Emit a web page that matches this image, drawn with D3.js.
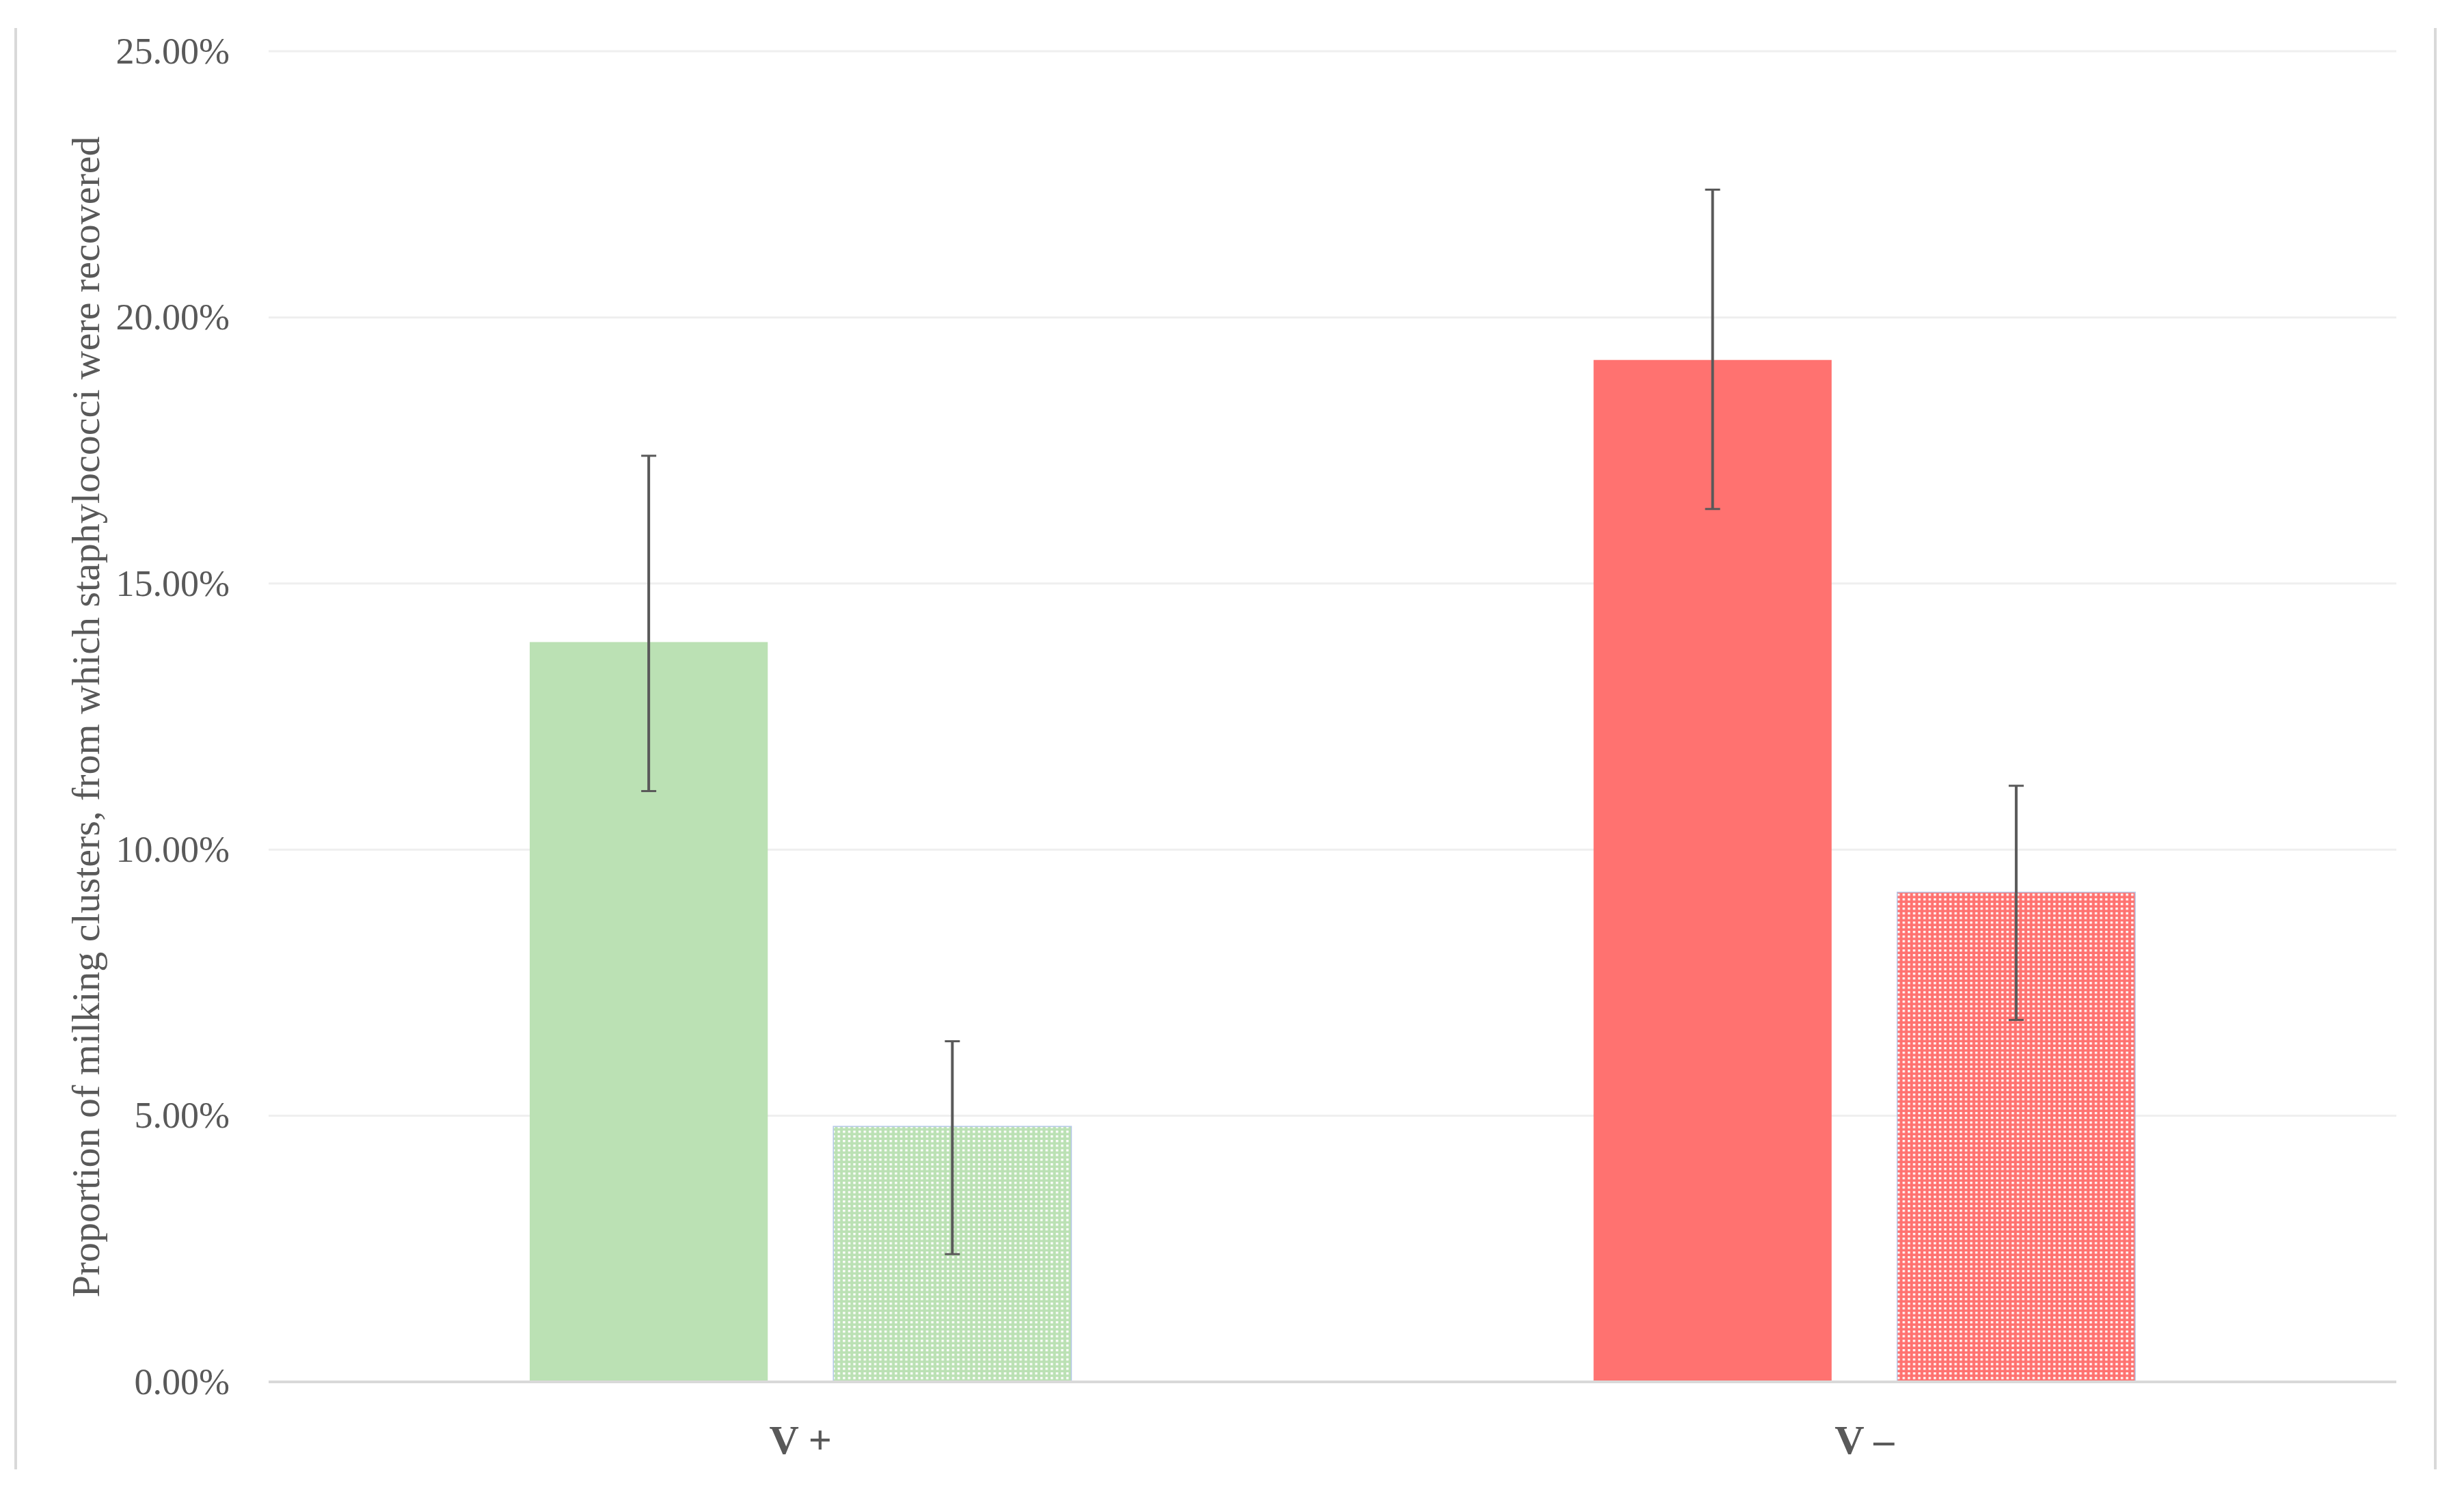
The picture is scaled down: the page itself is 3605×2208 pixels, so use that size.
<!DOCTYPE html>
<html>
<head>
<meta charset="utf-8">
<script src="https://cdn.jsdelivr.net/npm/d3@7"></script>
<style>
  html, body { margin: 0; padding: 0; background: #ffffff; }
  svg { display: block; }
</style>
</head>
<body>
<script>
// ---- data ----
const categories = ["V +", "V \u2013"];
const seriesNames = ["solid", "dotted"];
const valuesSolid = [0.139, 0.192];
const valuesDotted = [0.048, 0.092];
const errHighSolid = [0.174, 0.224];
const errLowSolid = [0.111, 0.164];
const errHighDotted = [0.064, 0.112];
const errLowDotted = [0.024, 0.068];
const yTicks = [0, 0.05, 0.10, 0.15, 0.20, 0.25];
const yLabel = "Proportion of milking clusters, from which staphylococci were recovered";

const colorGreen = "#bbe1b4";
const colorRed = "#ff7270";

const W = 3605, H = 2208;
const plot = { left: 393, right: 3506, top: 75, bottom: 2022 };

const svg = d3.select("body").append("svg").attr("width", W).attr("height", H);
const defs = svg.append("defs");

function makePattern(id, bg) {
  const p = defs.append("pattern").attr("id", id)
    .attr("patternUnits", "userSpaceOnUse")
    .attr("width", 7.6).attr("height", 6.8);
  p.append("rect").attr("width", 7.6).attr("height", 6.8).attr("fill", bg);
  p.append("rect").attr("x", 2).attr("y", 2).attr("width", 3.4).attr("height", 3.2).attr("fill", "#ffffff");
}
makePattern("patGreen", colorGreen);
makePattern("patRed", colorRed);

// outer frame lines (left and right)
svg.append("line").attr("x1", 23).attr("x2", 23).attr("y1", 41).attr("y2", 2150)
  .attr("stroke", "#d9d9d9").attr("stroke-width", 4);
svg.append("line").attr("x1", 3563).attr("x2", 3563).attr("y1", 41).attr("y2", 2150)
  .attr("stroke", "#d9d9d9").attr("stroke-width", 4);

const y = d3.scaleLinear().domain([0, 0.25]).range([plot.bottom, plot.top]);
const x0 = d3.scaleBand().domain(categories).range([plot.left, plot.right]).padding(0);
const x1 = d3.scaleBand().domain(seriesNames).range([0, x0.bandwidth()])
  .paddingInner(0.216).paddingOuter(0.86);

// gridlines
svg.append("g").selectAll("line").data(yTicks.filter(d => d > 0)).join("line")
  .attr("x1", plot.left).attr("x2", plot.right)
  .attr("y1", d => y(d)).attr("y2", d => y(d))
  .attr("stroke", "#efefef").attr("stroke-width", 3);

// y axis labels
const yAxis = d3.axisLeft(y).tickValues(yTicks).tickFormat(d3.format(".2%")).tickSize(0).tickPadding(57);
const gy = svg.append("g").attr("transform", `translate(${plot.left},0)`).call(yAxis);
gy.select(".domain").remove();
gy.selectAll("text").attr("font-family", "'Liberation Serif', 'Times New Roman', serif")
  .attr("font-size", 54).attr("fill", "#595959").attr("dy", "0.32em");

// bars
const rows = categories.map((c, i) => ({
  cat: c, i,
  bars: [
    { s: "solid", v: valuesSolid[i], hi: errHighSolid[i], lo: errLowSolid[i] },
    { s: "dotted", v: valuesDotted[i], hi: errHighDotted[i], lo: errLowDotted[i] }
  ]
}));

const gBars = svg.append("g");
rows.forEach(r => {
  const fillSolid = r.i === 0 ? colorGreen : colorRed;
  const fillDotted = r.i === 0 ? "url(#patGreen)" : "url(#patRed)";
  r.bars.forEach(b => {
    const bx = x0(r.cat) + x1(b.s);
    gBars.append("rect")
      .attr("x", bx).attr("y", y(b.v))
      .attr("width", x1.bandwidth()).attr("height", y(0) - y(b.v))
      .attr("fill", b.s === "solid" ? fillSolid : fillDotted)
      .attr("stroke", b.s === "solid" ? "none" : "#b4c7e7")
      .attr("stroke-width", b.s === "solid" ? 0 : 1.5);
  });
});

// x axis line
svg.append("line").attr("x1", plot.left).attr("x2", plot.right)
  .attr("y1", y(0)).attr("y2", y(0)).attr("stroke", "#d9d9d9").attr("stroke-width", 4);

// error bars
const gErr = svg.append("g").attr("stroke", "#595959");
rows.forEach(r => {
  r.bars.forEach(b => {
    const cx = x0(r.cat) + x1(b.s) + x1.bandwidth() / 2;
    gErr.append("line").attr("x1", cx).attr("x2", cx).attr("y1", y(b.hi)).attr("y2", y(b.lo)).attr("stroke-width", 4);
    [b.hi, b.lo].forEach(e => {
      gErr.append("line").attr("x1", cx - 11).attr("x2", cx + 11).attr("y1", y(e)).attr("y2", y(e)).attr("stroke-width", 3);
    });
  });
});

// x category labels
const xAxis = d3.axisBottom(x0).tickSize(0).tickPadding(0);
const gx = svg.append("g").attr("transform", `translate(0,${plot.bottom})`).call(xAxis);
gx.select(".domain").remove();
gx.selectAll("text").attr("font-family", "'Liberation Serif', 'Times New Roman', serif")
  .attr("font-size", 60).attr("font-weight", "bold").attr("fill", "#595959")
  .attr("dy", null).attr("y", 105);

// y axis title
svg.append("text")
  .attr("transform", `translate(145,${(203 + 1895) / 2}) rotate(-90)`)
  .attr("text-anchor", "middle")
  .attr("font-family", "'Liberation Serif', 'Times New Roman', serif")
  .attr("font-size", 58).attr("fill", "#595959")
  .text(yLabel);
</script>
</body>
</html>
